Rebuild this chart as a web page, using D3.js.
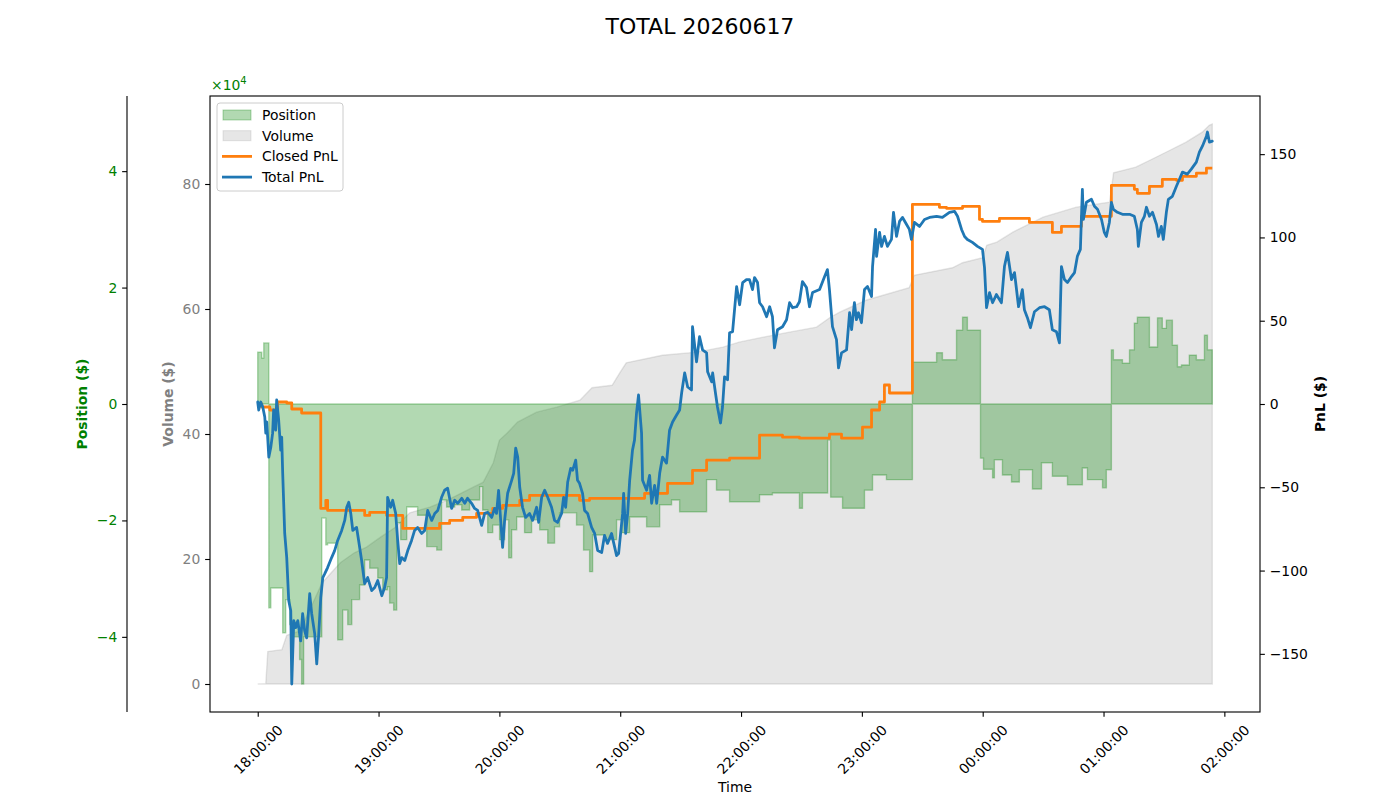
<!DOCTYPE html>
<html>
<head>
<meta charset="utf-8">
<script src="https://cdn.jsdelivr.net/npm/d3@7"></script>
<style>
body { margin: 0; background: #fff; }
svg { font-family: "DejaVu Sans", sans-serif; }
</style>
</head>
<body>
<svg id="chart" width="1400" height="800"></svg>
<script>
'use strict';

// all series are [minutes after 18:00, value]
const chartTitle = "TOTAL 20260617";
const startTime = new Date(2026, 5, 17, 18, 0, 0);

const volume = [[0,0],[4,500],[5,52000],[12,55000],[14.4,78000],[21,85000],[28,134000],[32,162000],[41,194000],[48,210000],
	[54,219000],[61,235000],[68,250000],[75.5,274000],[85.5,283000],[94,294000],[107,315000],[112,323000],[117,354000],[120,390000],
	[124,402000],[129,419000],[138.5,435000],[148.5,443000],[160,454000],[166,474000],[176,478000],[180,499000],[183,514000],[201,526000],
	[218,531000],[231,539000],[239,547000],[251,555000],[264,563000],[277.5,571000],[284,586000],[289,595000],[302,614000],[323.5,634000],
	[326,654000],[345,666000],[350,674000],[360,682000],[362,702000],[367,707000],[375,723000],[390,747000],[406.5,763000],[423,771000],
	[425,818000],[436,827000],[443,838000],[453,854000],[461,867000],[469,883000],[472.5,894000],[474,896000]];

const position = [[0,8900],[2,7900],[3,10500],[5.5,-35000],[6.5,-31600],[12.4,-39300],[13.9,-33600],[15.9,-37900],[17.4,-40000],[20.8,-43900],
	[21.8,-48100],[22.8,-40000],[31.8,-19600],[33.8,-24200],[34.7,-23900],[39.7,-40500],[42.2,-35400],[44.7,-37900],[46.7,-33600],[50.6,-31100],
	[53.1,-26800],[55.6,-28200],[59.6,-29900],[62.1,-31900],[64.5,-31400],[65.5,-34200],[67.5,-35400],[69,-20400],[71,-23300],[74,-17700],
	[79.4,-19100],[83.9,-24500],[88.9,-25100],[91.3,-16500],[93.8,-17700],[97.8,-17300],[101.3,-18200],[105.2,-16500],[110.2,-14200],[111.7,-18200],
	[114.2,-22100],[116.7,-20800],[120.1,-23300],[122.6,-19900],[124.6,-26400],[126.1,-21600],[128.6,-19400],[132.5,-22100],[136,-19900],[140,-21600],
	[144,-23900],[147.4,-21100],[149.9,-18700],[158.3,-20800],[161.8,-25100],[164.8,-28800],[166.3,-22500],[172.3,-23300],[178.2,-19900],[180.7,-22100],
	[184.7,-19400],[193.1,-21100],[199.6,-17300],[205.5,-16500],[209.5,-18500],[222.9,-13000],[227.8,-14800],[234.3,-16800],[249.2,-15600],[255.6,-15300],
	[269,-17900],[270.5,-15300],[283,-6200],[284.5,-16000],[290.4,-17900],[301.3,-14800],[305.3,-12200],[312.2,-13000],[325.1,7200],[337.1,8800],
	[340,7600],[347,12700],[350,14900],[352.4,12700],[358.9,-9300],[360.4,-11200],[364.9,-12700],[365.8,-9600],[369.8,-12200],[374.3,-13400],
	[378.2,-11300],[384.7,-14600],[389.2,-10100],[394.6,-12400],[402.1,-13900],[409.5,-11000],[412,-13000],[419.5,-14400],[421.4,-11300],[423.9,9300],
	[424.9,7600],[429.4,7000],[432.9,9300],[435.3,13900],[436.8,14900],[442.8,9800],[446.8,14800],[449.2,13000],[451.2,14400],[454.2,10100],
	[456.7,6400],[458.7,6700],[462.6,8400],[466.1,7600],[470.1,11800],[471.6,9300],[474,9300]];

const closedPnl = [[0,0],[2,-1.8],[6,-3.6],[9.9,1.2],[14.4,0.6],[16.9,-3],[21.8,-5.4],[31.3,-62.7],[33.8,-57.8],[34.7,-63.9],
	[53.1,-66.9],[55.6,-65],[64,-66.9],[72,-74.7],[90.3,-71.7],[95.3,-69.9],[101.8,-68],[108.7,-65.7],[116.7,-62.7],[121.6,-60.8],
	[130.1,-57.8],[135,-54.8],[159.8,-57.8],[164.8,-56.6],[192.1,-53.6],[203.5,-47.6],[215.9,-39.8],[222.9,-33.7],[234.3,-32.5],[249.2,-18.7],
	[260.6,-19.9],[269,-20.5],[283.9,-18.1],[289.9,-20.5],[300.3,-13.9],[304.8,-3.6],[308.8,1.2],[311.2,11.4],[313.7,6.6],[325.1,119.9],
	[338.5,118.1],[342,117.5],[350,118.7],[358.4,110.8],[359.9,109.6],[368.3,111.4],[383.2,109],[394.6,103],[399.1,106.6],[409,112.7],
	[423.9,131.3],[435.3,128.9],[436.8,126.5],[442.8,130.7],[449.2,134.9],[456.2,134.3],[459.2,136.7],[466.1,138.6],[471.1,141.6],[474,141.6]];

const totalPnl = [[0,1.2],[0.5,-3.6],[1.5,1.2],[2.5,-1.8],[3.5,-7.8],[4,-17.5],[4.5,-10.8],[5.5,-31.9],[6.5,-25.9],[7.4,-17.5],
	[7.9,-3.6],[8.9,-15.7],[9.4,2.4],[10.4,-9.6],[11.4,-27.7],[11.9,-19.9],[12.4,-41.6],[13.4,-77.7],[14.4,-92.2],[15.4,-118.1],
	[16.4,-124.1],[16.9,-168.1],[17.9,-130.1],[18.9,-134.3],[19.9,-130.1],[21.3,-142.2],[22.3,-125.9],[23.3,-136.1],[24.3,-140.4],[25.8,-113.9],
	[26.8,-125.9],[28.3,-138],[29.3,-156],[30.3,-138],[31.3,-116.3],[32.3,-104.2],[33.3,-101.8],[34.7,-98.2],[36.7,-92.2],[38.2,-88],
	[39.7,-81.9],[41.7,-75.9],[43.2,-69.9],[44.2,-62],[45.2,-59],[46.2,-65.7],[47.2,-75.9],[49.1,-74.1],[50.1,-81.9],[51.6,-94],
	[53.1,-107.8],[54.6,-104.2],[56.6,-112],[58.1,-110.2],[59.6,-106],[61.6,-115.1],[63,-110.2],[64,-104.2],[64.5,-56],[66,-62],
	[67,-57.8],[68.5,-65.7],[69.5,-81.9],[70.5,-95.8],[71.5,-92.2],[73,-94],[74.5,-88],[76.4,-81.9],[77.9,-75.9],[79.4,-74.1],
	[81.4,-77.7],[82.9,-75.9],[84.4,-63.9],[86.4,-69.9],[87.9,-65.7],[89.4,-63.9],[91.3,-56],[92.8,-51.8],[94.3,-50.6],[96.3,-62.7],
	[97.8,-57.8],[99.3,-59.6],[101.3,-56.6],[102.8,-59.6],[104.2,-56.6],[106.2,-59.6],[107.7,-62.7],[109.2,-63.9],[111.2,-72.9],[112.7,-65.7],
	[114.2,-65.1],[116.2,-68.1],[117.6,-62.7],[118.6,-65.7],[119.6,-51.8],[121.1,-77.7],[121.6,-86.1],[122.6,-69.9],[124.1,-53.6],[126.1,-45.8],
	[127.1,-41.6],[128.1,-26.5],[129.1,-31.9],[130.1,-50],[131.5,-62],[133,-68.1],[135,-65.7],[136.5,-69.9],[138.5,-62],[139.5,-71.1],
	[141,-56],[142.5,-51.8],[144,-56],[145.9,-62],[147.4,-69.9],[148.9,-71.1],[150.9,-65.7],[151.9,-56],[152.9,-62],[153.9,-47],
	[155.4,-38.6],[156.4,-39.8],[157.9,-33.7],[158.8,-45.8],[159.8,-47.6],[161.3,-53.6],[162.3,-63.9],[163.8,-65.7],[165.8,-74.1],[167.3,-77.7],
	[168.8,-88],[170.8,-89.2],[172.2,-78.9],[173.7,-83.7],[175.7,-77.7],[176.7,-83.1],[178.2,-91],[179.2,-89.8],[180.2,-77.7],[181.2,-65.7],
	[181.7,-53.6],[182.7,-77.7],[183.7,-65.7],[184.7,-45.8],[186.1,-27.7],[187.1,-21.7],[188.1,-5.4],[189.1,5.4],[190.6,-17.5],[191.1,-45.8],
	[193.1,-51.8],[194.6,-42.8],[195.6,-59.6],[197.1,-48.8],[198.1,-59.6],[199.6,-41.6],[201,-31.9],[203,-35.5],[204.5,-15.7],[206,-10.8],
	[208,-6.6],[209.5,-3.6],[210.5,6.6],[212,18.7],[213.5,10.2],[215.4,8.4],[215.9,46.4],[217.9,25.3],[219.4,40.4],[220.9,32.5],
	[222.9,30.7],[223.4,19.3],[225.4,13.3],[225.9,18.7],[227.3,6.6],[228.3,-1.8],[229.8,-11.4],[230.8,-1.8],[231.8,16.3],[233.3,14.5],
	[234.3,42.8],[235.8,43.4],[237.8,70.5],[239.3,59.6],[240.8,72.9],[242.7,74.7],[244.2,74.7],[245.7,68.7],[246.7,75.9],[248.2,72.9],
	[249.2,60.8],[250.7,58.4],[252.7,52.4],[254.2,58.4],[255.6,52.4],[256.6,33.7],[258.1,44.6],[260.6,46.4],[262.6,50.6],[264.1,60.8],
	[265.6,57.8],[267.6,58.4],[269,61.4],[270.5,73.5],[272.5,69.9],[274,58.4],[275.5,66.9],[279,68.7],[281.5,76.5],[282.9,80.7],
	[283.9,68.7],[285.4,46.4],[287.4,38.6],[288.4,21.7],[289.9,30.7],[292.4,32.5],[293.9,54.8],[294.9,44.6],[296.3,60.8],[297.3,50.6],
	[298.3,54.8],[299.8,48.8],[301.3,68.7],[302.8,70.5],[304.8,64.5],[305.3,82.5],[306.8,104.8],[307.3,88.6],[308.8,103],[309.8,94.6],
	[311.2,100.6],[312.7,94.6],[314.7,98.8],[315.7,115.1],[317.2,100.6],[318.7,109.6],[320.2,112],[322.2,107.8],[323.6,104.8],[324.6,98.8],
	[326.1,109],[328.6,106.6],[331.1,110.8],[333.6,112],[337.1,112.7],[340,112],[343.5,115.1],[346,115.7],[347.5,112.7],[349.5,104.8],
	[351,100.6],[352.4,98.8],[354.9,97],[357.4,94.6],[359.9,92.8],[360.9,81.9],[361.9,57.8],[363.4,66.9],[364.9,60.8],[366.8,65.7],
	[369.3,60.8],[370.8,82.5],[372.3,91],[374.3,74.7],[375.8,78.9],[377.8,58.4],[379.7,68.7],[380.7,56.6],[382.2,51.8],[383.7,45.8],
	[385.7,55.4],[388.2,57.8],[390.7,58.4],[393.1,56.6],[394.6,44.6],[396.6,43.4],[398.1,36.7],[399.1,82.5],[400.6,74.7],[402.1,72.9],
	[404.1,76.5],[405.6,78.9],[407,88.6],[408.5,92.8],[409.5,128.9],[410,110.8],[411.5,121.1],[414,122.9],[415.5,118.7],[417,116.9],
	[419,110.8],[420.4,103],[421.4,100.6],[422.9,109],[423.9,121.1],[424.9,116.9],[426.9,115.1],[429.4,113.9],[432.9,113.9],[435.3,112.7],
	[436.8,104.8],[437.3,94.6],[438.8,109],[440.3,112.7],[441.3,118.1],[442.8,112.7],[444.3,115.1],[446.3,107.8],[447.3,100.6],[448.7,106.6],
	[449.7,98.8],[451.2,115.1],[452.2,122.9],[454.2,124.7],[456.2,130.7],[457.7,134.9],[459.2,139.2],[461.6,138],[463.6,141],[466.1,145.2],
	[467.6,151.2],[469.1,154.8],[471.1,160.8],[471.6,163.3],[472.6,157.2],[474,157.8]];

const hourTicks = ["18:00:00","19:00:00","20:00:00","21:00:00","22:00:00","23:00:00","00:00:00","01:00:00","02:00:00"];
const positionTicks = [-40000, -20000, 0, 20000, 40000];
const volumeTicks = [0, 200000, 400000, 600000, 800000];
const pnlTicks = [-150, -100, -50, 0, 50, 100, 150];

function toTime(m) {
	return new Date(startTime.getTime() + m * 60000);
}

let svg = d3.select("#chart"),
	margin = {top: 96, right: 140, bottom: 88, left: 210},
	width = +svg.attr("width") - margin.left - margin.right,
	height = +svg.attr("height") - margin.top - margin.bottom,
	g = svg.append("g").attr("transform", "translate(" + margin.left + "," + margin.top + ")");

// sizes in px for a 100 dpi figure
const fontSize = 13.9, tickLen = 4.86, tickPad = 4.86, spineW = 1.11, lineW = 2.78;

// matplotlib style limits
let tMax = d3.max(totalPnl, d => d[0]);
let xPad = tMax * 0.05;
let x = d3.scaleTime()
	.domain([toTime(-xPad), toTime(tMax + xPad)])
	.range([0, width]);

let volMax = d3.max(volume, d => d[1]);
let yVol = d3.scaleLinear()
	.domain([-volMax * 0.05, volMax * 1.05])
	.range([height, 0]);

let posLim = d3.max(position, d => Math.abs(d[1])) * 1.1;
let yPos = d3.scaleLinear()
	.domain([-posLim, posLim])
	.range([height, 0]);

let pnlLim = d3.max(totalPnl.concat(closedPnl), d => Math.abs(d[1])) * 1.1;
let yPnl = d3.scaleLinear()
	.domain([-pnlLim, pnlLim])
	.range([height, 0]);

svg.append("defs").append("clipPath").attr("id", "plotClip")
	.append("rect").attr("width", width).attr("height", height);

let plot = g.append("g").attr("clip-path", "url(#plotClip)");

// volume
plot.append("path")
	.datum(volume)
	.attr("fill", "gray").attr("fill-opacity", 0.2)
	.attr("stroke", "gray").attr("stroke-opacity", 0.2).attr("stroke-width", 1.39)
	.attr("d", d3.area()
		.x(d => x(toTime(d[0])))
		.y0(yVol(0))
		.y1(d => yVol(d[1])));

// position
plot.append("path")
	.datum(position)
	.attr("fill", "green").attr("fill-opacity", 0.3)
	.attr("stroke", "green").attr("stroke-opacity", 0.3).attr("stroke-width", 1.39)
	.attr("d", d3.area()
		.curve(d3.curveStepAfter)
		.x(d => x(toTime(d[0])))
		.y0(yPos(0))
		.y1(d => yPos(d[1])));

// pnl lines
plot.append("path")
	.datum(closedPnl)
	.attr("fill", "none").attr("stroke", "#ff7f0e").attr("stroke-width", lineW)
	.attr("stroke-linejoin", "round")
	.attr("d", d3.line()
		.curve(d3.curveStepAfter)
		.x(d => x(toTime(d[0])))
		.y(d => yPnl(d[1])));

plot.append("path")
	.datum(totalPnl)
	.attr("fill", "none").attr("stroke", "#1f77b4").attr("stroke-width", lineW)
	.attr("stroke-linejoin", "round").attr("stroke-linecap", "round")
	.attr("d", d3.line()
		.x(d => x(toTime(d[0])))
		.y(d => yPnl(d[1])));

function styleAxis(sel, color) {
	sel.select(".domain").remove();
	sel.selectAll(".tick line").attr("stroke", "#000").attr("stroke-width", spineW);
	sel.selectAll(".tick text").attr("fill", color).style("font-size", fontSize + "px")
		.style("font-family", "DejaVu Sans");
}

// x axis
let xAxis = g.append("g")
	.attr("transform", "translate(0," + height + ")")
	.call(d3.axisBottom(x)
		.tickValues(hourTicks.map((s, i) => toTime(i * 60)))
		.tickFormat((d, i) => hourTicks[i])
		.tickSize(tickLen).tickPadding(tickPad));
styleAxis(xAxis, "#000");
xAxis.selectAll(".tick text")
	.attr("y", null).attr("dy", null)
	.attr("text-anchor", "middle")
	.attr("dominant-baseline", "central")
	.attr("transform", function() {
		let w = this.getComputedTextLength(), h = fontSize * 1.17;
		let off = tickLen + tickPad + (w + h) * Math.SQRT1_2 / 2;
		return "translate(0," + off + ") rotate(-45)";
	});

// volume axis (left)
let volAxis = g.append("g")
	.call(d3.axisLeft(yVol).tickValues(volumeTicks).tickFormat(d => d / 1e4)
		.tickSize(tickLen).tickPadding(tickPad));
styleAxis(volAxis, "gray");

// position axis (offset left)
let posAxis = g.append("g")
	.attr("transform", "translate(-83,0)")
	.call(d3.axisLeft(yPos).tickValues(positionTicks).tickFormat(d => d3.format("d")(d / 1e4))
		.tickSize(tickLen).tickPadding(tickPad));
styleAxis(posAxis, "green");
posAxis.append("line")
	.attr("y1", 0).attr("y2", height)
	.attr("stroke", "#000").attr("stroke-width", spineW);

// pnl axis (right)
let pnlAxis = g.append("g")
	.attr("transform", "translate(" + width + ",0)")
	.call(d3.axisRight(yPnl).tickValues(pnlTicks).tickFormat(d3.format("d"))
		.tickSize(tickLen).tickPadding(tickPad));
styleAxis(pnlAxis, "#000");

// frame
g.append("rect")
	.attr("width", width).attr("height", height)
	.attr("fill", "none").attr("stroke", "#000").attr("stroke-width", spineW);

// offset text for position
let off = g.append("text")
	.attr("x", 1).attr("y", -6)
	.attr("fill", "green")
	.style("font-size", fontSize + "px");
off.append("tspan").text("×10");
off.append("tspan").attr("dy", -6).style("font-size", "10px").text("4");

// axis labels
function yLabel(cx, text, color) {
	svg.append("text")
		.attr("transform", "translate(" + cx + "," + (margin.top + height / 2) + ") rotate(-90)")
		.attr("text-anchor", "middle")
		.attr("dominant-baseline", "central")
		.attr("fill", color)
		.style("font-size", fontSize + "px")
		.style("font-weight", "bold")
		.text(text);
}
yLabel(82, "Position ($)", "green");
yLabel(168, "Volume ($)", "gray");
yLabel(1320, "PnL ($)", "#000");

svg.append("text")
	.attr("x", margin.left + width / 2).attr("y", 792)
	.attr("text-anchor", "middle")
	.style("font-size", fontSize + "px")
	.text("Time");

svg.append("text")
	.attr("x", 700).attr("y", 34)
	.attr("text-anchor", "middle")
	.style("font-size", "22px")
	.text(chartTitle);

// legend
let legend = g.append("g").attr("transform", "translate(7,7)");
legend.append("rect")
	.attr("width", 126).attr("height", 88).attr("rx", 3)
	.attr("fill", "#fff").attr("fill-opacity", 0.8)
	.attr("stroke", "#ccc").attr("stroke-width", 1);

const legendItems = [
	{label: "Position", type: "patch", color: "green", alpha: 0.3},
	{label: "Volume", type: "patch", color: "gray", alpha: 0.2},
	{label: "Closed PnL", type: "line", color: "#ff7f0e"},
	{label: "Total PnL", type: "line", color: "#1f77b4"}
];
legendItems.forEach(function(item, i) {
	let cy = 12 + i * 20.7;
	if (item.type === "patch") {
		legend.append("rect")
			.attr("x", 6).attr("y", cy - 5).attr("width", 28).attr("height", 10)
			.attr("fill", item.color).attr("fill-opacity", item.alpha)
			.attr("stroke", item.color).attr("stroke-opacity", item.alpha);
	} else {
		legend.append("line")
			.attr("x1", 5).attr("x2", 35).attr("y1", cy).attr("y2", cy)
			.attr("stroke", item.color).attr("stroke-width", lineW);
	}
	legend.append("text")
		.attr("x", 45).attr("y", cy)
		.attr("dominant-baseline", "central")
		.style("font-size", fontSize + "px")
		.text(item.label);
});
</script>
</body>
</html>
